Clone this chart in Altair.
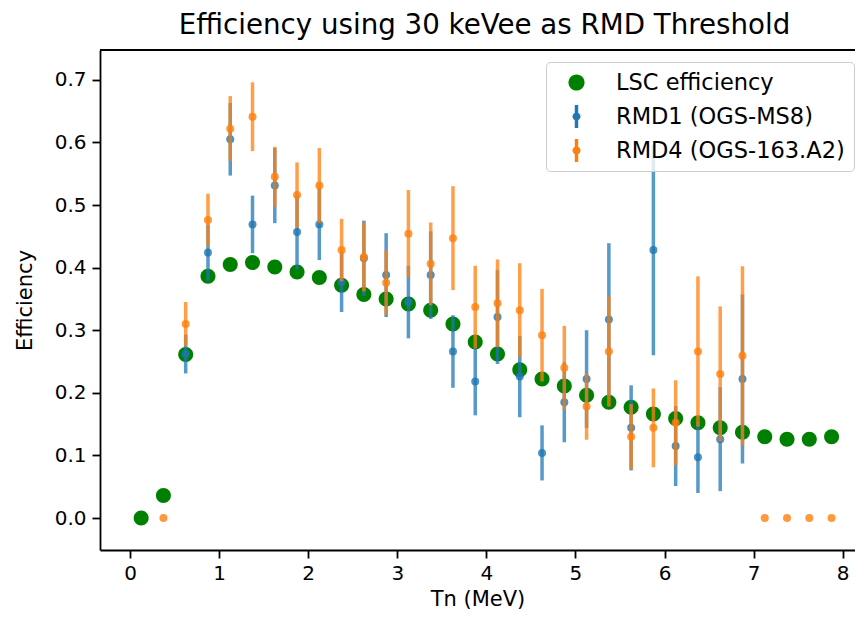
import altair as alt
import pandas as pd

# ---------------- data ----------------
tn_lsc = [0.125, 0.375, 0.625, 0.875, 1.125, 1.375, 1.625, 1.875, 2.125, 2.375,
          2.625, 2.875, 3.125, 3.375, 3.625, 3.875, 4.125, 4.375, 4.625, 4.875,
          5.125, 5.375, 5.625, 5.875, 6.125, 6.375, 6.625, 6.875, 7.125, 7.375,
          7.625, 7.875]
eff_lsc = [0.000, 0.036, 0.261, 0.386, 0.405, 0.408, 0.401, 0.393, 0.384, 0.372,
           0.357, 0.350, 0.342, 0.332, 0.310, 0.281, 0.262, 0.237, 0.222, 0.211,
           0.196, 0.185, 0.177, 0.166, 0.159, 0.152, 0.144, 0.137, 0.130, 0.126,
           0.126, 0.130]

tn_rmd1 = [0.625, 0.875, 1.125, 1.375, 1.625, 1.875, 2.125, 2.375, 2.625, 2.875,
           3.125, 3.375, 3.625, 3.875, 4.125, 4.375, 4.625, 4.875, 5.125, 5.375,
           5.625, 5.875, 6.125, 6.375, 6.625, 6.875]
eff_rmd1 = [0.262, 0.424, 0.605, 0.469, 0.531, 0.457, 0.469, 0.377, 0.415, 0.388,
            0.345, 0.388, 0.266, 0.218, 0.321, 0.226, 0.104, 0.185, 0.222, 0.317,
            0.144, 0.428, 0.115, 0.097, 0.126, 0.222]
err_rmd1 = [0.031, 0.045, 0.058, 0.046, 0.060, 0.060, 0.057, 0.048, 0.060, 0.067,
            0.058, 0.070, 0.058, 0.054, 0.075, 0.065, 0.044, 0.064, 0.078, 0.122,
            0.068, 0.168, 0.064, 0.057, 0.083, 0.135]

tn_rmd4 = [0.375, 0.625, 0.875, 1.125, 1.375, 1.625, 1.875, 2.125, 2.375, 2.625,
           2.875, 3.125, 3.375, 3.625, 3.875, 4.125, 4.375, 4.625, 4.875, 5.125,
           5.375, 5.625, 5.875, 6.125, 6.375, 6.625, 6.875, 7.125, 7.375, 7.625,
           7.875]
eff_rmd4 = [0.000, 0.310, 0.476, 0.622, 0.641, 0.545, 0.516, 0.531, 0.428, 0.417,
            0.376, 0.454, 0.406, 0.447, 0.337, 0.343, 0.332, 0.292, 0.240, 0.178,
            0.266, 0.130, 0.144, 0.152, 0.266, 0.230, 0.259, 0.000, 0.000, 0.000,
            0.000]
err_rmd4 = [0.000, 0.035, 0.042, 0.052, 0.055, 0.048, 0.052, 0.060, 0.050, 0.055,
            0.052, 0.070, 0.066, 0.083, 0.066, 0.070, 0.075, 0.074, 0.067, 0.053,
            0.088, 0.052, 0.063, 0.068, 0.120, 0.108, 0.143, 0.000, 0.000, 0.000,
            0.000]

series_names = ["LSC efficiency", "RMD1 (OGS-MS8)", "RMD4 (OGS-163.A2)"]
x_ticks = [0, 1, 2, 3, 4, 5, 6, 7, 8]
y_ticks = [0.0, 0.1, 0.2, 0.3, 0.4, 0.5, 0.6, 0.7]

# ---------------- tables ----------------
lsc = pd.DataFrame({"tn": tn_lsc, "eff": eff_lsc, "series": series_names[0]})
r1 = pd.DataFrame({"tn": tn_rmd1, "eff": eff_rmd1, "err": err_rmd1, "series": series_names[1]})
r4 = pd.DataFrame({"tn": tn_rmd4, "eff": eff_rmd4, "err": err_rmd4, "series": series_names[2]})
for d in (r1, r4):
    d["lo"] = d["eff"] - d["err"]
    d["hi"] = d["eff"] + d["err"]

# ---------------- styling ----------------
FONT = "DejaVu Sans"
colors = ["#008000", "#1f77b4", "#ff7f0e"]
circle_path = "M0.7,0A0.7,0.7 0 1,1 -0.7,0A0.7,0.7 0 1,1 0.7,0Z"
err_path = ("M-0.15,-1L0.15,-1L0.15,-0.3L-0.15,-0.3Z"
            "M-0.15,0.3L0.15,0.3L0.15,1L-0.15,1Z"
            "M0.35,0A0.35,0.35 0 1,1 -0.35,0A0.35,0.35 0 1,1 0.35,0Z")

W, H = 755, 500
xscale = alt.Scale(domain=[-0.337, 8.138], nice=False, zero=False)
yscale = alt.Scale(domain=[-0.0511, 0.7476], nice=False, zero=False)
xaxis = alt.Axis(values=x_ticks, format="d", title="Tn (MeV)", grid=False,
                 labelPadding=5, titlePadding=5)
yaxis = alt.Axis(values=y_ticks, format=".1f", title="Efficiency", grid=False,
                 labelPadding=6, titlePadding=19)

color_scale = alt.Scale(domain=series_names, range=colors)

leg = alt.Legend(
    title=None, orient="none", legendX=446, legendY=12, direction="vertical",
    symbolSize=529, symbolStrokeWidth=0, symbolOffset=10, labelOffset=28,
    labelFontSize=22.5, labelFont=FONT, labelColor="black", labelLimit=500,
    padding=9, rowPadding=11, fillColor="rgba(255,255,255,0.8)",
    strokeColor="#cccccc", cornerRadius=4,
)

X = alt.X("tn:Q", scale=xscale, axis=xaxis)
Y = alt.Y("eff:Q", scale=yscale, axis=yaxis)

green = alt.Chart(lsc).mark_point(filled=True, opacity=1, size=459, strokeWidth=0).encode(
    x=X, y=Y,
    color=alt.Color("series:N", scale=color_scale, legend=leg),
    shape=alt.Shape("series:N", scale=alt.Scale(domain=series_names,
                                                range=[circle_path, err_path, err_path]),
                    legend=leg),
)


def errbar(df):
    bars = alt.Chart(df).mark_rule(strokeWidth=3.5, opacity=0.75).encode(
        x=X, y=alt.Y("lo:Q", scale=yscale, axis=yaxis), y2="hi:Q",
        color=alt.Color("series:N", scale=color_scale, legend=None),
    )
    dots = alt.Chart(df).mark_circle(size=64, opacity=0.8).encode(
        x=X, y=Y,
        color=alt.Color("series:N", scale=color_scale, legend=None),
    )
    return bars, dots


b1, d1 = errbar(r1)
b4, d4 = errbar(r4)

top_border = alt.Chart(pd.DataFrame({"k": [0]})).mark_rule(color="black", strokeWidth=1.8).encode(
    x=alt.value(0), x2=alt.value(W), y=alt.value(0)
)

chart = alt.layer(green, b1, d1, b4, d4, top_border).properties(
    width=W, height=H,
    title=alt.TitleParams("Efficiency using 30 keVee as RMD Threshold", fontSize=27.7,
                          font=FONT, fontWeight="normal", color="black",
                          offset=9, anchor="middle", dx=7),
    autosize=alt.AutoSizeParams(type="none"),
    padding={"left": 92, "top": 42, "right": 0, "bottom": 63},
).configure_view(stroke=None).configure_axis(
    labelFont=FONT, titleFont=FONT, labelFontSize=20, titleFontSize=21,
    titleFontWeight="normal", labelColor="black", titleColor="black",
    domainColor="black", tickColor="black", domainWidth=1.8, tickWidth=1.8,
    tickSize=8,
)

chart.save("out.html", embed_options={"renderer": "svg", "actions": False})
